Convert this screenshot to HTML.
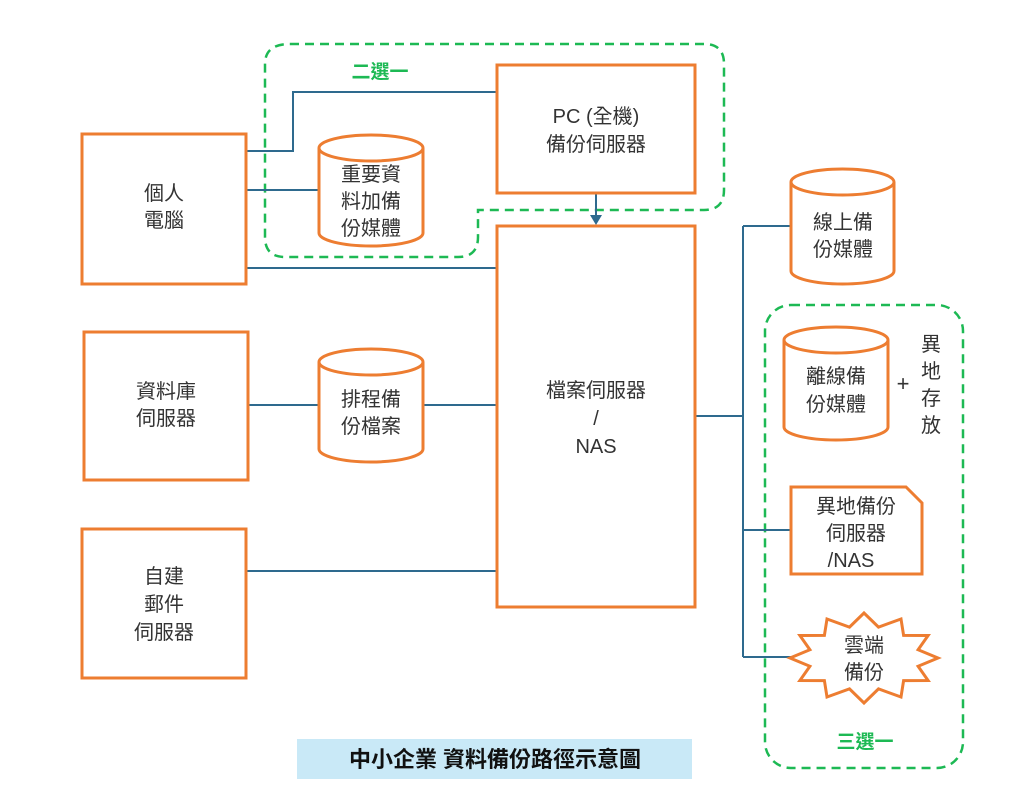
<!DOCTYPE html>
<html><head><meta charset="utf-8"><style>
html,body{margin:0;padding:0;background:#fff;}
svg{display:block;}
text{font-family:"Liberation Sans","Noto Sans CJK TC",sans-serif;fill:#333;font-size:20px;text-anchor:middle;}
.o{fill:#fff;stroke:#ED7D31;stroke-width:3;}
.b{stroke:#2E6A8E;stroke-width:2;fill:none;}
.g{fill:none;stroke:#1DB954;stroke-width:2.5;stroke-dasharray:9 6;}
.gt{fill:#1DB954;font-weight:bold;font-size:19px;}
</style></head><body>
<svg width="1024" height="805" viewBox="0 0 1024 805">
<path class="g" d="M290,44 H704 Q724,44 724,64 V190 Q724,210 704,210 H478 V237 Q478,257 458,257 H285 Q265,257 265,237 V64 Q265,44 290,44 Z"/>
<rect class="g" x="765" y="305" width="198" height="463" rx="26"/>
<text class="gt" x="380" y="78">二選一</text>
<text class="gt" x="865" y="748">三選一</text>

<path class="b" d="M246,151 H293 V92 H497"/>
<path class="b" d="M246,190 H319"/>
<path class="b" d="M246,268 H497"/>
<path class="b" d="M248,405 H319 M423,405 H497"/>
<path class="b" d="M246,571 H497"/>
<path class="b" d="M596,193 V220"/>
<path d="M590,215 L596,225 L602,215 Z" fill="#2E6A8E"/>
<path class="b" d="M695,416 H743 M743,226 V657 M743,226 H790 M743,530 H791 M743,657 H793"/>

<rect class="o" x="82" y="134" width="164" height="150"/>
<text x="164" y="200">個人</text><text x="164" y="227">電腦</text>
<rect class="o" x="84" y="332" width="164" height="148"/>
<text x="166" y="398">資料庫</text><text x="166" y="425">伺服器</text>
<rect class="o" x="82" y="529" width="164" height="149"/>
<text x="164" y="583">自建</text><text x="164" y="611">郵件</text><text x="164" y="639">伺服器</text>
<rect class="o" x="497" y="65" width="198" height="128"/>
<text x="596" y="123">PC (全機)</text><text x="596" y="151">備份伺服器</text>
<rect class="o" x="497" y="226" width="198" height="381"/>
<text x="596" y="397">檔案伺服器</text><text x="596" y="425">/</text><text x="596" y="453">NAS</text>

<g>
<path class="o" d="M319,148 V233 A52,13 0 0 0 423,233 V148"/>
<ellipse class="o" cx="371" cy="148" rx="52" ry="13"/>
<text x="371" y="181">重要資</text><text x="371" y="208">料加備</text><text x="371" y="235">份媒體</text>
</g>
<g>
<path class="o" d="M319,362 V449 A52,13 0 0 0 423,449 V362"/>
<ellipse class="o" cx="371" cy="362" rx="52" ry="13"/>
<text x="371" y="406">排程備</text><text x="371" y="433">份檔案</text>
</g>
<g>
<path class="o" d="M791,182 V271 A51.5,13 0 0 0 894,271 V182"/>
<ellipse class="o" cx="842.5" cy="182" rx="51.5" ry="13"/>
<text x="843" y="229">線上備</text><text x="843" y="256">份媒體</text>
</g>
<g>
<path class="o" d="M784,340 V427 A52,13 0 0 0 888,427 V340"/>
<ellipse class="o" cx="836" cy="340" rx="52" ry="13"/>
<text x="836" y="383">離線備</text><text x="836" y="411">份媒體</text>
</g>
<text x="903" y="391" style="font-size:22px">+</text>
<text x="931" y="351">異</text><text x="931" y="378">地</text><text x="931" y="405">存</text><text x="931" y="432">放</text>

<path class="o" d="M791,487 H906 L922,503 V574 H791 Z"/>
<text x="856" y="513">異地備份</text><text x="856" y="540">伺服器</text><text x="851" y="567">/NAS</text>

<polygon class="o" points="938,658 918.1,666.3 928.1,680.5 903.6,680.6 901,697 878.5,688.9 864,703 849.5,688.9 827,697 824.4,680.6 799.9,680.5 809.9,666.3 790,658 809.9,649.7 799.9,635.5 824.4,635.4 827,619 849.5,627.1 864,613 878.5,627.1 901,619 903.6,635.4 928.1,635.5 918.1,649.7"/>
<text x="864" y="652">雲端</text><text x="864" y="679">備份</text>

<rect x="297" y="739" width="395" height="40" fill="#C9E9F7"/>
<text x="495" y="767" style="font-weight:bold;font-size:22px;fill:#111">中小企業 資料備份路徑示意圖</text>
</svg>
</body></html>
